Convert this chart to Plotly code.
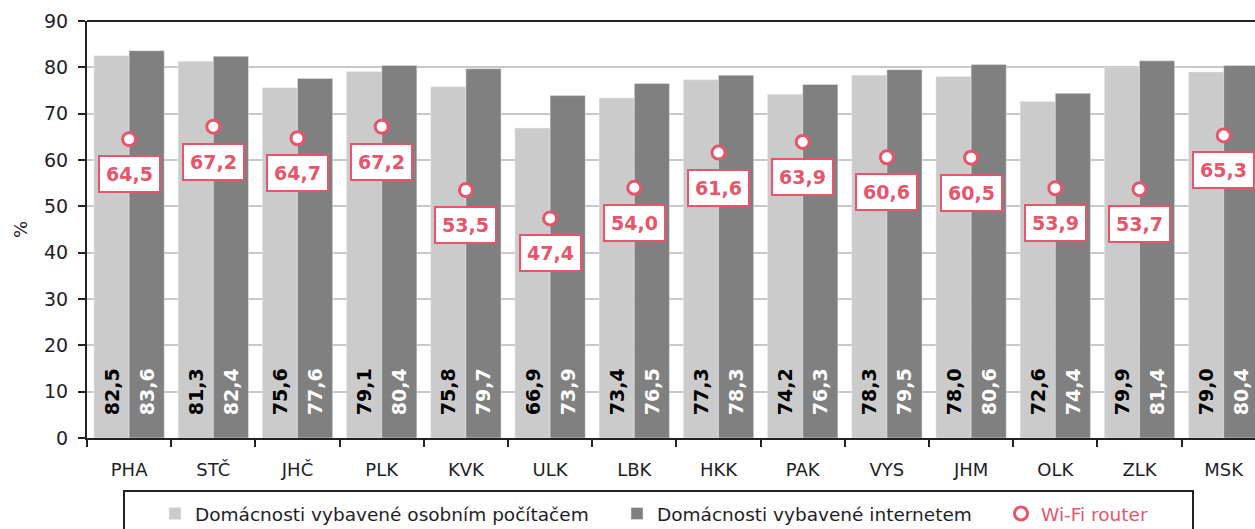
import plotly.graph_objects as go

categories = ["PHA", "STČ", "JHČ", "PLK", "KVK", "ULK", "LBK", "HKK", "PAK", "VYS", "JHM", "OLK", "ZLK", "MSK"]
pc_values = [82.5, 81.3, 75.6, 79.1, 75.8, 66.9, 73.4, 77.3, 74.2, 78.3, 78.0, 72.6, 79.9, 79.0]
internet_values = [83.6, 82.4, 77.6, 80.4, 79.7, 73.9, 76.5, 78.3, 76.3, 79.5, 80.6, 74.4, 81.4, 80.4]
wifi_values = [64.5, 67.2, 64.7, 67.2, 53.5, 47.4, 54.0, 61.6, 63.9, 60.6, 60.5, 53.9, 53.7, 65.3]

name_pc = "Domácnosti vybavené osobním počítačem"
name_net = "Domácnosti vybavené internetem"
name_wifi = "Wi-Fi router"

FONT = "DejaVu Sans"
RED = "#E8546A"
LIGHT = "#CBCBCB"
DARK = "#808080"
TXT = "#1E1E28"
PAD = "\u00a0\u00a0\u00a0"

W, H = 1255, 529
ML, MT, MB, MR = 87, 21, 91, 0
plot_w = W - ML - MR
plot_h = H - MT - MB


def px_x(px):
    return (px - ML) / plot_w


def px_y(py):
    return (H - MB - py) / plot_h


fig = go.Figure()
fig.add_trace(go.Bar(
    x=categories, y=pc_values, name=name_pc, marker_color=LIGHT, legend="legend",
    texttemplate=PAD + "%{y:.1f}", textposition="inside", insidetextanchor="start",
    textangle=-90, insidetextfont=dict(family=FONT, size=19, color="#000000", weight="bold"),
    constraintext="none",
))
fig.add_trace(go.Bar(
    x=categories, y=internet_values, name=name_net, marker_color=DARK, legend="legend2",
    texttemplate=PAD + "%{y:.1f}", textposition="inside", insidetextanchor="start",
    textangle=-90, insidetextfont=dict(family=FONT, size=19, color="#FFFFFF", weight="bold"),
    constraintext="none",
))
fig.add_trace(go.Scatter(
    x=categories, y=wifi_values, name=name_wifi, legend="legend3",
    mode="markers",
    marker=dict(symbol="circle", size=13, color="#FFFFFF", line=dict(color=RED, width=3)),
))

for c, v in zip(categories, wifi_values):
    fig.add_annotation(
        x=c, y=v, yshift=-35, showarrow=False,
        text=f"{v:.1f}".replace(".", ","),
        font=dict(family=FONT, size=19, color=RED, weight="bold"),
        bgcolor="#FFFFFF", bordercolor=RED, borderwidth=2, borderpad=6,
    )

# top frame line
fig.add_shape(type="line", xref="paper", yref="paper", x0=0, x1=1.02, y0=1, y1=1,
              line=dict(color="#222222", width=2))
# legend frame
fig.add_shape(type="rect", xref="paper", yref="paper", x0=px_x(124), x1=px_x(1193),
              y0=px_y(491), y1=px_y(545),
              line=dict(color="#222222", width=2), fillcolor="rgba(0,0,0,0)")

leg_common = dict(orientation="h", xanchor="left", yanchor="top", y=px_y(495),
                  bgcolor="rgba(0,0,0,0)", borderwidth=0)

n_visible = plot_w / 84.2
fig.update_layout(
    width=W, height=H,
    margin=dict(l=ML, r=MR, t=MT, b=MB, autoexpand=False),
    paper_bgcolor="#FFFFFF", plot_bgcolor="#FFFFFF",
    separators=", ",
    barmode="group", bargap=0.165, bargroupgap=0,
    font=dict(family=FONT, size=17, color=TXT),
    showlegend=True,
    legend=dict(x=px_x(155), font=dict(family=FONT, size=18.5, color=TXT), **leg_common),
    legend2=dict(x=px_x(617), font=dict(family=FONT, size=18.5, color=TXT), **leg_common),
    legend3=dict(x=px_x(1001), font=dict(family=FONT, size=18.5, color=RED), **leg_common),
    xaxis=dict(
        type="category", range=[-0.5, -0.5 + n_visible],
        showline=True, linecolor="#222222", linewidth=2,
        ticks="outside", ticklen=7, tickcolor="#222222", tickwidth=2, tickson="boundaries",
        tickfont=dict(family=FONT, size=18, color=TXT), ticklabelstandoff=14,
        showgrid=False, fixedrange=True,
    ),
    yaxis=dict(
        range=[0, 90], dtick=10, tick0=0,
        showline=True, linecolor="#222222", linewidth=2,
        ticks="outside", ticklen=7, tickcolor="#222222", tickwidth=2,
        tickfont=dict(family=FONT, size=19, color=TXT), ticklabelstandoff=6,
        showgrid=True, gridcolor="#C8C8C8", gridwidth=2, zeroline=False,
        title=dict(text="%", font=dict(family=FONT, size=18, color=TXT), standoff=12),
        fixedrange=True,
    ),
)

fig.write_html("out.html", config={"displayModeBar": False},
               post_script="document.body.style.margin='0';")
